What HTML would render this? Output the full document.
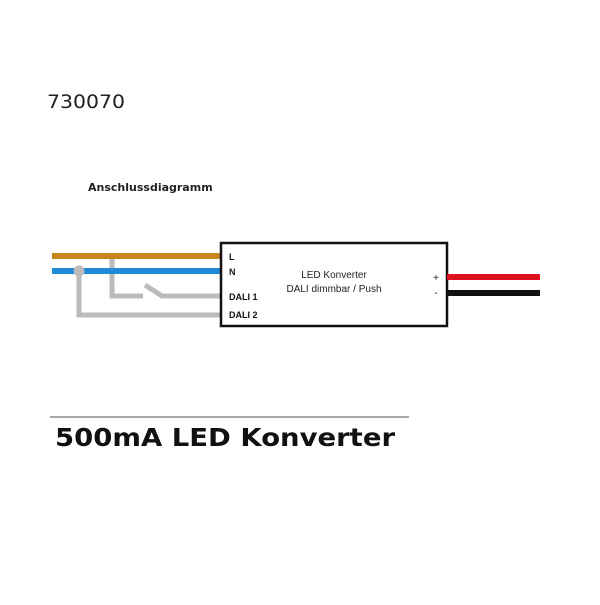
<!DOCTYPE html>
<html><head><style>body{margin:0;background:#fff;width:600px;height:600px;overflow:hidden}</style></head><body>
<svg width="600" height="600" xmlns="http://www.w3.org/2000/svg" font-family="'DejaVu Sans','Liberation Sans',sans-serif">
<text x="47" y="108" font-size="19" fill="#222" textLength="78" lengthAdjust="spacingAndGlyphs">730070</text>
<text x="88" y="191" font-size="11" font-weight="bold" fill="#222">Anschlussdiagramm</text>
<g fill="none" stroke="#bbb" stroke-width="5">
<polyline points="112,256 112,296 143,296"/>
<polyline points="145,285 162,296 221,296"/>
<polyline points="79,271 79,315 221,315"/>
</g>
<rect x="52" y="253" width="169" height="6" fill="#c8861a"/>
<rect x="52" y="268" width="169" height="6" fill="#1e8ad8"/>
<circle cx="79" cy="271" r="5.5" fill="#bbb"/>
<rect x="221" y="243" width="226" height="83" fill="#fff" stroke="#111" stroke-width="2.5"/>
<rect x="447" y="274" width="93" height="6" fill="#e01020"/>
<rect x="447" y="290" width="93" height="6" fill="#111"/>
<g font-size="9" font-weight="bold" fill="#111" font-family="'Liberation Sans',sans-serif">
<text x="229" y="260">L</text><text x="229" y="275">N</text>
<text x="229" y="300">DALI 1</text><text x="229" y="318">DALI 2</text>
</g>
<g font-size="10" fill="#222" text-anchor="middle" font-family="'Liberation Sans',sans-serif">
<text x="334" y="278">LED Konverter</text>
<text x="334" y="292">DALI dimmbar / Push</text>
<text x="436" y="281">+</text><text x="436" y="296">-</text>
</g>
<line x1="50" y1="417" x2="409" y2="417" stroke="#555" stroke-width="1"/>
<text x="55" y="446" font-size="25" font-weight="bold" fill="#111" textLength="340" lengthAdjust="spacingAndGlyphs">500mA LED Konverter</text>
</svg>
</body></html>
